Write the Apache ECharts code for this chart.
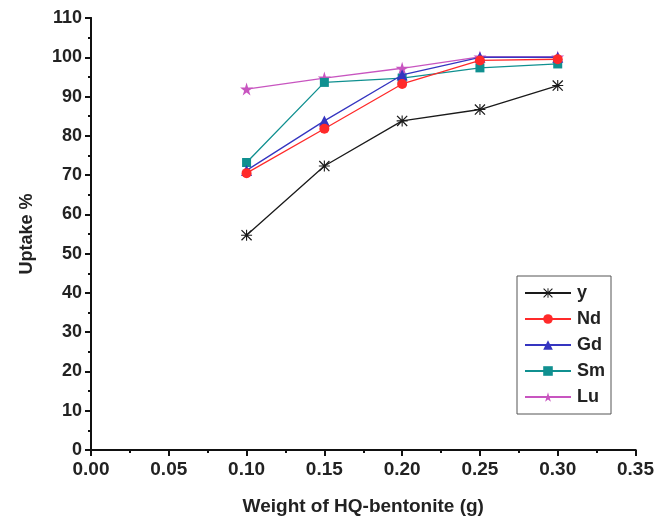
<!DOCTYPE html>
<html><head><meta charset="utf-8">
<script src="https://cdn.jsdelivr.net/npm/echarts@6/dist/echarts.min.js"></script>
<style>html,body{margin:0;padding:0;background:#fff}#c{width:657px;height:525px}</style>
</head><body><div id="c"></div>
<script>
const xValues = [0.10, 0.15, 0.20, 0.25, 0.30];
const seriesNames = ['y', 'Nd', 'Gd', 'Sm', 'Lu'];
const yData  = [54.7, 72.3, 83.8, 86.7, 92.8];
const ndData = [70.5, 81.8, 93.2, 99.2, 99.5];
const gdData = [71.2, 83.8, 95.5, 100.0, 100.0];
const smData = [73.2, 93.6, 94.7, 97.3, 98.3];
const luData = [91.9, 94.7, 97.2, 100.1, 100.1];
const xTickLabels = ['0.00','0.05','0.10','0.15','0.20','0.25','0.30','0.35'];

const colors = ['#1a1a1a', '#ff2a2a', '#3535c0', '#109090', '#c855c0'];
const asterisk = 'path://M0,4.5L10,4.5L10,5.5L0,5.5Z M4.5,0L5.5,0L5.5,10L4.5,10Z M0,0.8L0.8,0L10,9.2L9.2,10Z M9.2,0L10,0.8L0.8,10L0,9.2Z';
const star = 'path://M50,0L61,35L98,35L68,57L79,91L50,70L21,91L32,57L2,35L39,35Z';
const symbols = [asterisk, 'circle', 'triangle', 'rect', star];
const sizes = [11, 10, 11, 9, 13];
const datasets = [yData, ndData, gdData, smData, luData];

const font = 'Liberation Sans, Arial, sans-serif';
const chart = echarts.init(document.getElementById('c'));
chart.setOption({
  animation: false,
  grid: {left: 91, right: 19, top: 18, bottom: 75},
  legend: {
    orient: 'vertical', left: 517, top: 276, width: 92, height: 137,
    borderColor: '#555', borderWidth: 1, padding: [8, 6, 8, 7],
    itemGap: 8, itemWidth: 46, itemHeight: 12,
    textStyle: {fontFamily: font, fontWeight: 'bold', fontSize: 18, color: '#222', padding: [0, 0, 0, 1]},
    data: seriesNames
  },
  xAxis: [{
    type: 'value', min: 0, max: 0.35, interval: 0.05,
    name: 'Weight of HQ-bentonite (g)', nameLocation: 'middle', nameGap: 47,
    nameTextStyle: {fontFamily: font, fontWeight: 'bold', fontSize: 19, color: '#222'},
    axisLine: {show: true, lineStyle: {color: '#111', width: 2}},
    axisTick: {show: true, inside: false, length: 6, lineStyle: {width: 2, color: '#111'}},
    minorTick: {show: true, splitNumber: 2, length: 3, lineStyle: {width: 2, color: '#111'}},
    axisLabel: {fontFamily: font, fontWeight: 'bold', fontSize: 19, color: '#222', margin: 10,
      formatter: function(v){ return xTickLabels[Math.round(v/0.05)]; }},
    splitLine: {show: false}
  }, {
    type: 'value', position: 'top', min: 0, max: 0.35,
    axisLine: {show: true, lineStyle: {color: '#111', width: 2}},
    axisTick: {show: false}, axisLabel: {show: false}, splitLine: {show: false}
  }],
  yAxis: [{
    type: 'value', min: 0, max: 110, interval: 10,
    name: 'Uptake %', nameLocation: 'middle', nameGap: 55,
    nameTextStyle: {fontFamily: font, fontWeight: 'bold', fontSize: 18, color: '#222'},
    axisLine: {show: true, lineStyle: {color: '#111', width: 2}},
    axisTick: {show: true, inside: false, length: 6, lineStyle: {width: 2, color: '#111'}},
    minorTick: {show: true, splitNumber: 2, length: 3, lineStyle: {width: 2, color: '#111'}},
    axisLabel: {fontFamily: font, fontWeight: 'bold', fontSize: 18, color: '#222', margin: 9},
    splitLine: {show: false}
  }, {
    type: 'value', position: 'right', min: 0, max: 110,
    axisLine: {show: true, lineStyle: {color: '#111', width: 2}},
    axisTick: {show: false}, axisLabel: {show: false}, splitLine: {show: false}
  }],
  series: seriesNames.map((n, i) => ({
    name: n, type: 'line',
    data: xValues.map((x, j) => [x, datasets[i][j]]),
    symbol: symbols[i], symbolSize: sizes[i], showAllSymbol: true,
    itemStyle: {color: colors[i]},
    lineStyle: {color: colors[i], width: 1.3},
    z: 10 - i
  }))
});
</script></body></html>
